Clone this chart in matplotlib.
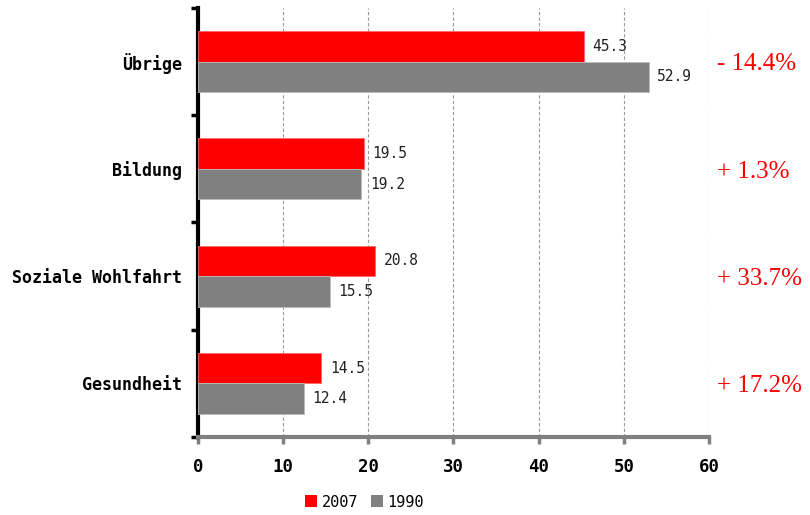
import matplotlib
matplotlib.use("Agg")
import matplotlib.pyplot as plt
import numpy as np
from matplotlib.patches import Patch

categories = ["Gesundheit", "Soziale Wohlfahrt", "Bildung", "Übrige"]
values_2007 = [14.5, 20.8, 19.5, 45.3]
values_1990 = [12.4, 15.5, 19.2, 52.9]
changes = ["+ 17.2%", "+ 33.7%", "+ 1.3%", "- 14.4%"]
series_labels = ["2007", "1990"]
xticks = [0, 10, 20, 30, 40, 50, 60]

RED = "#FF0000"
GRAY = "#808080"
mono = "DejaVu Sans Mono"

fig = plt.figure(figsize=(8.1, 5.15), dpi=100)
ax = fig.add_axes([0.2444, 0.1515, 0.6309, 0.833])

y = np.arange(len(categories))
h = 0.285
b1 = ax.barh(y + h / 2, values_2007, height=h, color=RED, edgecolor="#ff6666", linewidth=0.6, zorder=3)
b2 = ax.barh(y - h / 2, values_1990, height=h, color=GRAY, edgecolor="#bbbbbb", linewidth=0.6, zorder=3)

for bars, vals in ((b1, values_2007), (b2, values_1990)):
    for rect, v in zip(bars, vals):
        ax.annotate(f"{v:.1f}", (v, rect.get_y() + rect.get_height() / 2),
                    xytext=(6, 0), textcoords="offset points", va="center", ha="left",
                    fontsize=10.5, family=mono, color="#222222")

ax.set_xlim(0, 60)
ax.set_ylim(-0.5, len(categories) - 0.5)
ax.set_xticks(xticks)
ax.set_xticklabels([str(t) for t in xticks], family=mono, fontweight="bold", fontsize=12.5)
ax.set_yticks(np.arange(len(categories) + 1) - 0.5)
ax.set_yticklabels([])
ax.set_yticks(y, minor=True)
ax.set_yticklabels(categories, minor=True, family=mono, fontweight="bold", fontsize=12)
ax.tick_params(axis="y", which="minor", length=0, pad=11.5)
ax.tick_params(axis="y", which="major", length=5, width=2.5, color="black", direction="out")
ax.tick_params(axis="x", length=5, width=2.5, color=GRAY, pad=10)

ax.grid(axis="x", linestyle=(0, (3, 2)), color="#999999", linewidth=0.8, zorder=0)
for s in ("top", "right"):
    ax.spines[s].set_visible(False)
ax.spines["left"].set_linewidth(3)
ax.spines["left"].set_color("black")
ax.spines["bottom"].set_linewidth(3)
ax.spines["bottom"].set_color(GRAY)

for yi, txt in zip(y, changes):
    ax.annotate(txt, (1.0, yi), xycoords=("axes fraction", "data"), xytext=(6, -2),
                textcoords="offset points", ha="left", va="center",
                fontsize=18, family="Liberation Serif", color=RED)

handles = [Patch(facecolor=RED), Patch(facecolor=GRAY)]
fig.legend(handles, series_labels, loc="center", bbox_to_anchor=(0.45, 0.025), ncol=2,
           frameon=False, prop={"family": mono, "size": 11}, handlelength=0.8,
           handleheight=0.8, handletextpad=0.3, columnspacing=0.8)

fig.savefig("out.png", dpi=100)
